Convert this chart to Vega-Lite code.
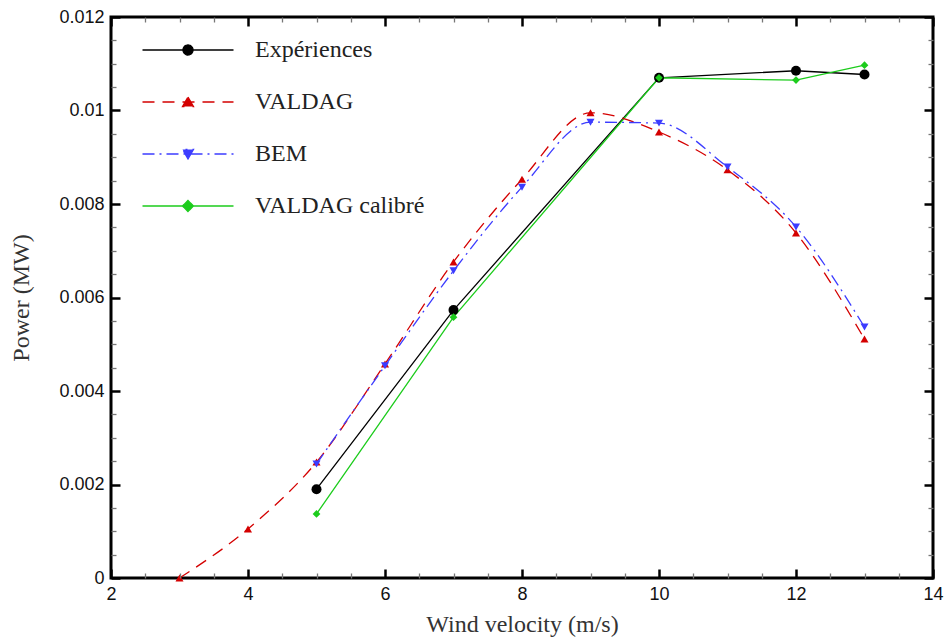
{
  "$schema": "https://vega.github.io/schema/vega-lite/v6.json",
  "width": 822,
  "height": 561,
  "autosize": "none",
  "padding": {"left": 111, "top": 17, "right": 13, "bottom": 61},
  "background": "white",
  "config": {"view": {"stroke": "black", "strokeWidth": 3}, "legend": {"labelFont": "Liberation Serif", "labelFontSize": 24, "labelColor": "#222", "labelLimit": 400}},
  "data": {"values": [
    {"series": "Expériences", "x": 5, "y": 0.0019},
    {"series": "Expériences", "x": 7, "y": 0.00573},
    {"series": "Expériences", "x": 10, "y": 0.0107},
    {"series": "Expériences", "x": 12, "y": 0.01085},
    {"series": "Expériences", "x": 13, "y": 0.01077},
    {"series": "VALDAG", "x": 3, "y": 0.0},
    {"series": "VALDAG", "x": 4, "y": 0.00105},
    {"series": "VALDAG", "x": 5, "y": 0.00248},
    {"series": "VALDAG", "x": 6, "y": 0.00458},
    {"series": "VALDAG", "x": 7, "y": 0.00676},
    {"series": "VALDAG", "x": 8, "y": 0.00853},
    {"series": "VALDAG", "x": 9, "y": 0.00995},
    {"series": "VALDAG", "x": 10, "y": 0.00954},
    {"series": "VALDAG", "x": 11, "y": 0.00873},
    {"series": "VALDAG", "x": 12, "y": 0.00738},
    {"series": "VALDAG", "x": 13, "y": 0.00511},
    {"series": "BEM", "x": 5, "y": 0.00244},
    {"series": "BEM", "x": 6, "y": 0.00454},
    {"series": "BEM", "x": 7, "y": 0.00657},
    {"series": "BEM", "x": 8, "y": 0.00836},
    {"series": "BEM", "x": 9, "y": 0.00975},
    {"series": "BEM", "x": 10, "y": 0.00973},
    {"series": "BEM", "x": 11, "y": 0.00879},
    {"series": "BEM", "x": 12, "y": 0.00751},
    {"series": "BEM", "x": 13, "y": 0.00537},
    {"series": "VALDAG calibré", "x": 5, "y": 0.00137},
    {"series": "VALDAG calibré", "x": 7, "y": 0.00558},
    {"series": "VALDAG calibré", "x": 10, "y": 0.0107},
    {"series": "VALDAG calibré", "x": 12, "y": 0.01065},
    {"series": "VALDAG calibré", "x": 13, "y": 0.01097}
  ]},
  "resolve": {"axis": {"x": "independent", "y": "independent"}},
  "layer": [
    {
      "mark": {"type": "point", "opacity": 0},
      "encoding": {
        "x": {"field": "x", "type": "quantitative",
          "axis": {"orient": "bottom", "title": null, "labels": false, "grid": false, "domain": false, "offset": -5, "zindex": 1,
            "values": [2.5,3,3.5,4.5,5,5.5,6.5,7,7.5,8.5,9,9.5,10.5,11,11.5,12.5,13,13.5],
            "ticks": true, "tickOpacity": 1, "tickSize": 5, "tickColor": "#777", "tickWidth": 1.3}},
        "y": {"field": "y", "type": "quantitative",
          "axis": {"orient": "left", "title": null, "labels": false, "grid": false, "domain": false, "offset": -5, "zindex": 1,
            "values": [0.0005,0.001,0.0015,0.0025,0.003,0.0035,0.0045,0.005,0.0055,0.0065,0.007,0.0075,0.0085,0.009,0.0095,0.0105,0.011,0.0115],
            "ticks": true, "tickOpacity": 1, "tickSize": 5, "tickColor": "#777", "tickWidth": 1.3}}
      }
    },
    {
      "mark": {"type": "point", "opacity": 0},
      "encoding": {
        "x": {"field": "x", "type": "quantitative",
          "axis": {"orient": "top", "title": null, "labels": false, "grid": false, "domain": false, "offset": -5, "zindex": 1,
            "values": [2.5,3,3.5,4.5,5,5.5,6.5,7,7.5,8.5,9,9.5,10.5,11,11.5,12.5,13,13.5],
            "ticks": true, "tickOpacity": 1, "tickSize": 5, "tickColor": "#777", "tickWidth": 1.3}},
        "y": {"field": "y", "type": "quantitative",
          "axis": {"orient": "right", "title": null, "labels": false, "grid": false, "domain": false, "offset": -5, "zindex": 1,
            "values": [0.0005,0.001,0.0015,0.0025,0.003,0.0035,0.0045,0.005,0.0055,0.0065,0.007,0.0075,0.0085,0.009,0.0095,0.0105,0.011,0.0115],
            "ticks": true, "tickOpacity": 1, "tickSize": 5, "tickColor": "#777", "tickWidth": 1.3}}
      }
    },
    {
      "transform": [{"filter": "datum.series === 'Expériences' || datum.series === 'VALDAG calibré'"}],
      "mark": {"type": "line", "strokeWidth": 1.3},
      "encoding": {
        "x": {"field": "x", "type": "quantitative", "scale": {"domain": [2, 14], "nice": false, "zero": false},
          "axis": {"orient": "bottom", "title": "Wind velocity (m/s)", "values": [2,4,6,8,10,12,14], "format": "~g",
            "labelOverlap": false, "labelFlush": false, "grid": false, "domain": false, "ticks": false,
            "labelPadding": 7, "labelFont": "Liberation Sans", "labelFontSize": 18, "labelColor": "#111",
            "titleFont": "Liberation Serif", "titleFontSize": 24, "titleFontWeight": "normal", "titleColor": "#333", "titlePadding": 9}},
        "y": {"field": "y", "type": "quantitative", "scale": {"domain": [0, 0.012], "nice": false},
          "axis": {"orient": "left", "title": "Power (MW)", "values": [0,0.002,0.004,0.006,0.008,0.01,0.012], "format": "~g",
            "labelOverlap": false, "labelFlush": false, "grid": false, "domain": false, "ticks": false,
            "labelPadding": 7, "labelFont": "Liberation Sans", "labelFontSize": 18, "labelColor": "#111",
            "titleFont": "Liberation Serif", "titleFontSize": 24, "titleFontWeight": "normal", "titleColor": "#333", "titlePadding": 25}},
        "color": {"field": "series", "type": "nominal",
          "scale": {"domain": ["Expériences", "VALDAG", "BEM", "VALDAG calibré"], "range": ["#000000", "#d40000", "#3c3cff", "#1ccc1c"]},
          "legend": {"orient": "none", "legendX": 65, "legendY": 21, "title": null, "padding": 0,
            "symbolSize": 400, "labelOffset": 55, "rowPadding": 28, "labelLimit": 400,
            "labelFont": "Liberation Serif", "labelFontSize": 24, "labelColor": "#222",
            "symbolStrokeWidth": 1.3,
            "encode": {"symbols": {"update": {
              "shape": {"signal": "datum.value === 'Expériences' ? 'M-4.55,0H4.55M0.5,0A0.5,0.5 0 1,1 -0.5,0A0.5,0.5 0 1,1 0.5,0Z' : datum.value === 'VALDAG' ? 'M-4.55,0H4.55M0,-0.5L0.55,0.45L-0.55,0.45Z' : datum.value === 'BEM' ? 'M-4.55,0H4.55M0,0.5L0.55,-0.45L-0.55,-0.45Z' : 'M-4.55,0H4.55M0,-0.55L0.55,0L0,0.55L-0.55,0Z'"},
              "strokeDash": {"signal": "datum.value === 'VALDAG' ? [12,8] : datum.value === 'BEM' ? [12,5,2,5] : [1,0]"},
              "fill": {"scale": "color", "field": "value"},
              "stroke": {"scale": "color", "field": "value"},
              "opacity": {"value": 1},
              "fillOpacity": {"value": 1}
            }}}
          }
        }
      }
    },
    {
      "transform": [{"filter": "datum.series === 'VALDAG'"}],
      "mark": {"type": "line", "strokeWidth": 1.3, "interpolate": "monotone", "strokeDash": [12, 8]},
      "encoding": {
        "x": {"field": "x", "type": "quantitative",
          "axis": {"orient": "bottom", "title": null, "labels": false, "grid": false, "domain": false, "offset": -9, "zindex": 1,
            "values": [2,4,6,8,10,12,14], "ticks": true, "tickOpacity": 1, "tickSize": 9, "tickColor": "#000", "tickWidth": 2.5}},
        "y": {"field": "y", "type": "quantitative",
          "axis": {"orient": "left", "title": null, "labels": false, "grid": false, "domain": false, "offset": -9, "zindex": 1,
            "values": [0,0.002,0.004,0.006,0.008,0.01,0.012], "ticks": true, "tickOpacity": 1, "tickSize": 9, "tickColor": "#000", "tickWidth": 2.5}},
        "color": {"field": "series", "type": "nominal", "legend": null}
      }
    },
    {
      "transform": [{"filter": "datum.series === 'BEM'"}],
      "mark": {"type": "line", "strokeWidth": 1.3, "interpolate": "monotone", "strokeDash": [12, 5, 2, 5]},
      "encoding": {
        "x": {"field": "x", "type": "quantitative",
          "axis": {"orient": "top", "title": null, "labels": false, "grid": false, "domain": false, "offset": -9, "zindex": 1,
            "values": [2,4,6,8,10,12,14], "ticks": true, "tickOpacity": 1, "tickSize": 9, "tickColor": "#000", "tickWidth": 2.5}},
        "y": {"field": "y", "type": "quantitative",
          "axis": {"orient": "right", "title": null, "labels": false, "grid": false, "domain": false, "offset": -9, "zindex": 1,
            "values": [0,0.002,0.004,0.006,0.008,0.01,0.012], "ticks": true, "tickOpacity": 1, "tickSize": 9, "tickColor": "#000", "tickWidth": 2.5}},
        "color": {"field": "series", "type": "nominal", "legend": null}
      }
    },
    {
      "transform": [{"filter": "datum.series === 'Expériences'"}],
      "mark": {"type": "point", "filled": true, "opacity": 1, "shape": "circle", "size": 100},
      "encoding": {
        "x": {"field": "x", "type": "quantitative", "axis": null},
        "y": {"field": "y", "type": "quantitative", "axis": null},
        "color": {"field": "series", "type": "nominal", "legend": null}
      }
    },
    {
      "transform": [{"filter": "datum.series === 'VALDAG'"}],
      "mark": {"type": "point", "filled": true, "opacity": 1, "shape": "triangle-up", "size": 65},
      "encoding": {
        "x": {"field": "x", "type": "quantitative", "axis": null},
        "y": {"field": "y", "type": "quantitative", "axis": null},
        "color": {"field": "series", "type": "nominal", "legend": null}
      }
    },
    {
      "transform": [{"filter": "datum.series === 'BEM'"}],
      "mark": {"type": "point", "filled": true, "opacity": 1, "shape": "triangle-down", "size": 65},
      "encoding": {
        "x": {"field": "x", "type": "quantitative", "axis": null},
        "y": {"field": "y", "type": "quantitative", "axis": null},
        "color": {"field": "series", "type": "nominal", "legend": null}
      }
    },
    {
      "transform": [{"filter": "datum.series === 'VALDAG calibré'"}],
      "mark": {"type": "point", "filled": true, "opacity": 1, "shape": "diamond", "size": 60},
      "encoding": {
        "x": {"field": "x", "type": "quantitative", "axis": null},
        "y": {"field": "y", "type": "quantitative", "axis": null},
        "color": {"field": "series", "type": "nominal", "legend": null}
      }
    }
  ]
}
